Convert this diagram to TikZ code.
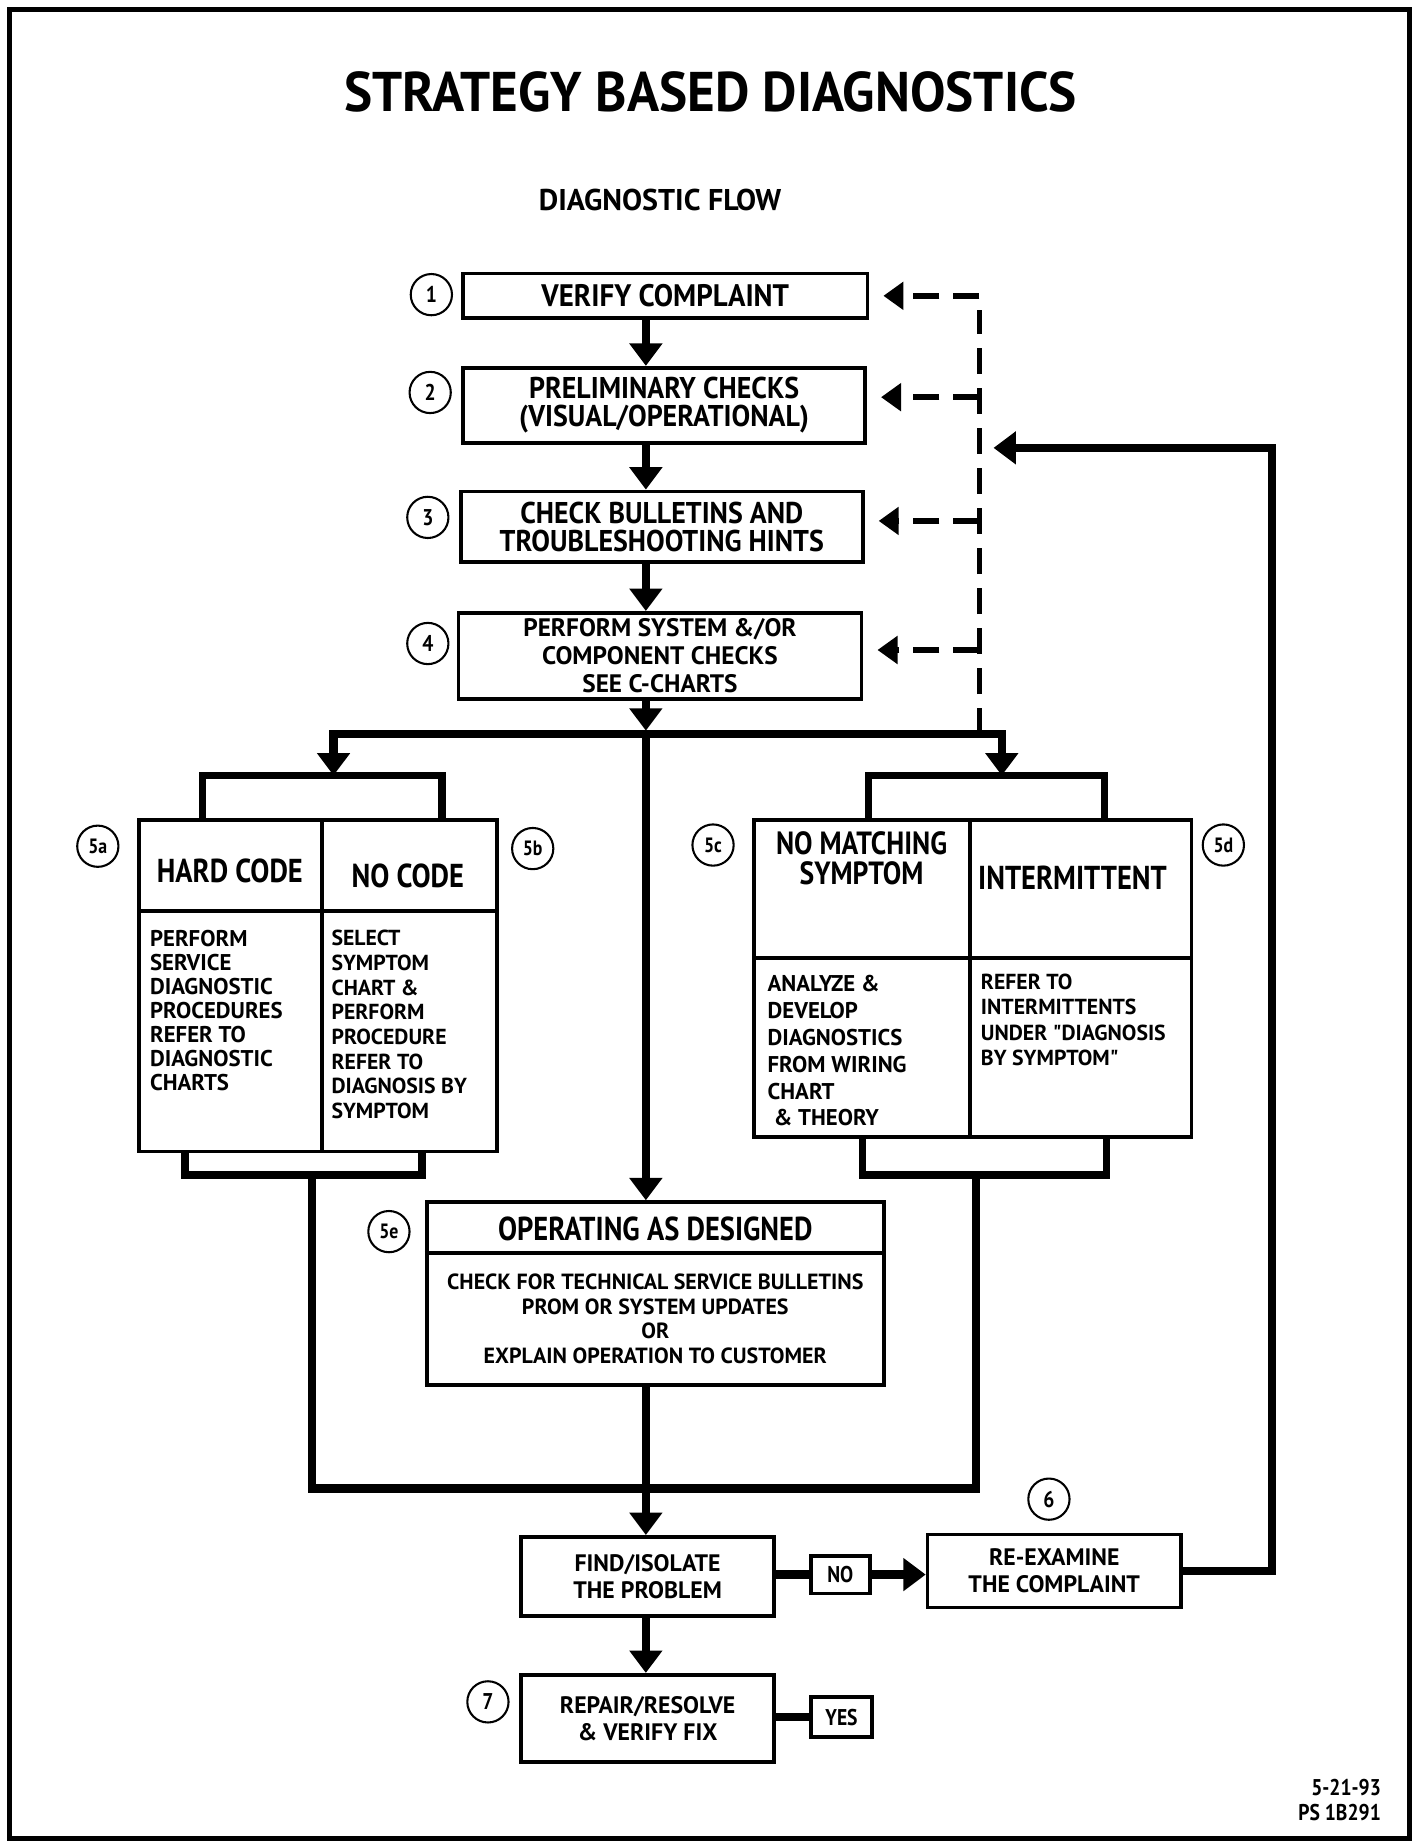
\documentclass[tikz,border=0pt]{standalone}
\usepackage{fontspec}
\setmainfont{PT Sans}[FakeStretch=0.86]
\newfontfamily\plainsans{PT Sans}
\newfontfamily\titlesans{PT Sans}[FakeStretch=0.95]
\newfontfamily\boxsans{PT Sans}[FakeStretch=0.93]
\usetikzlibrary{arrows.meta,positioning,calc}
\newcommand{\bfsz}[2]{\fontsize{#1}{#2}\selectfont\bfseries}

\begin{document}
\begin{tikzpicture}[x=0.02cm, y=-0.02cm, line join=miter,
  >={Triangle[width=0.54cm,length=0.38cm]},
  box/.style={draw, line width=1.8pt, inner sep=0pt, align=center},
  num/.style={draw, circle, line width=1pt, minimum size=0.7cm, inner sep=0pt, font=\bfsz{11}{11}},
  flow/.style={line width=4pt},
  bracket/.style={line width=3.6pt},
  divide/.style={line width=1.8pt},
  back/.style={line width=2.6pt, dash pattern=on 0.44cm off 0.24cm, -{Triangle[width=0.46cm,length=0.34cm]}, shorten >=0.24cm},
  txt/.style={inner sep=0pt, align=left, font=\plainsans\bfsz{11}{11.6}}]
  \useasboundingbox (0,0) rectangle (1208,1568);
  \draw[line width=2.4pt] (8,8) rectangle (1196,1560);

  \node[font=\titlesans\bfsz{27}{30}] (title) at (603,78) {STRATEGY BASED DIAGNOSTICS};
  \node[font=\plainsans\bfsz{14.5}{16}] (sub) at (560,170) {DIAGNOSTIC FLOW};

  \node[box, minimum width=6.86cm, minimum height=0.76cm, font=\boxsans\bfsz{15}{17}] (verify) at (564.5,251) {VERIFY COMPLAINT};
  \node[box, minimum width=6.82cm, minimum height=1.28cm, font=\boxsans\bfsz{14.5}{13.6}] (prelim) at (563.5,344) {PRELIMINARY CHECKS\\(VISUAL/OPERATIONAL)};
  \node[box, minimum width=6.82cm, minimum height=1.2cm, font=\boxsans\bfsz{14.5}{13.6}] (bullet) at (561.5,447) {CHECK BULLETINS AND\\TROUBLESHOOTING HINTS};
  \node[box, minimum width=6.84cm, minimum height=1.46cm, font=\plainsans\bfsz{12.2}{13.6}] (system) at (560,556.5) {PERFORM SYSTEM \&/OR\\COMPONENT CHECKS\\SEE C-CHARTS};

  \node[num] (n1) at (366,250) {1};
  \node[num] (n2) at (365,333) {2};
  \node[num] (n3) at (363,439) {3};
  \node[num] (n4) at (363,546) {4};

  \coordinate (spine) at (548,0);
  \coordinate (split) at (548,623);
  \draw[flow,->] (verify.south -| spine) -- (prelim.north -| spine);
  \draw[flow,->] (prelim.south -| spine) -- (bullet.north -| spine);
  \draw[flow,->] (bullet.south -| spine) -- (system.north -| spine);
  \draw[flow,->] (system.south -| spine) -- ([yshift=0.06cm]split);

  % code / no code
  \node[box, minimum width=6.08cm, minimum height=5.62cm] (ab) at (270,836.5) {};
  \draw[divide] (ab.north -| 273,0) -- (ab.south -| 273,0);
  \draw[divide] (ab.west |- 0,773) -- (ab.east |- 0,773);
  \coordinate (abl) at (172,658);
  \coordinate (abr) at (375,658);
  \coordinate (abin) at (283,658);
  \draw[bracket] (abl |- ab.north) -- (abl) -- (abr) -- (abr |- ab.north);
  \coordinate (abbl) at (157,997);
  \coordinate (abbr) at (358,997);
  \coordinate (about) at (265,997);
  \draw[bracket] (abbl |- ab.south) -- (abbl) -- (abbr) -- (abbr |- ab.south);

  \node[font=\bfsz{16}{16}] (hardhd) at (195,739) {HARD CODE};
  \node[font=\bfsz{16}{16}] (nocodehd) at (346,743) {NO CODE};
  \node[txt, anchor=north west] (hardtx) at (127,789) {PERFORM\\SERVICE\\DIAGNOSTIC\\PROCEDURES\\REFER TO\\DIAGNOSTIC\\CHARTS};
  \node[txt, anchor=north west, font=\plainsans\bfsz{10.5}{11.9}] (nocodetx) at (281,789) {SELECT\\SYMPTOM\\CHART \&\\PERFORM\\PROCEDURE\\REFER TO\\DIAGNOSIS BY\\SYMPTOM};
  \node[num, font=\bfsz{10}{10}] (n5a) at (83,718) {5a};
  \node[num, font=\bfsz{10}{10}] (n5b) at (452,720) {5b};

  % no matching / intermittent
  \node[box, minimum width=7.42cm, minimum height=5.38cm] (cd) at (825.5,830.5) {};
  \draw[divide] (cd.north -| 823,0) -- (cd.south -| 823,0);
  \draw[divide] (cd.west |- 0,813) -- (cd.east |- 0,813);
  \coordinate (cdl) at (737,658);
  \coordinate (cdr) at (937,658);
  \coordinate (cdin) at (850,658);
  \draw[bracket] (cdl |- cd.north) -- (cdl) -- (cdr) -- (cdr |- cd.north);
  \coordinate (cdbl) at (732,997);
  \coordinate (cdbr) at (939,997);
  \coordinate (cdout) at (828,997);
  \draw[bracket] (cdbl |- cd.south) -- (cdbl) -- (cdbr) -- (cdbr |- cd.south);

  \node[font=\bfsz{15.5}{14.6}, align=center] (nomatchhd) at (731,728) {NO MATCHING\\SYMPTOM};
  \node[font=\bfsz{16}{16}] (interhd) at (910,745) {INTERMITTENT};
  \node[txt, anchor=north west, font=\plainsans\bfsz{11}{13}] (nomatchtx) at (651,827) {ANALYZE \&\\DEVELOP\\DIAGNOSTICS\\FROM WIRING\\CHART\\\hspace{3pt}\& THEORY};
  \node[txt, anchor=north west, font=\plainsans\bfsz{10.5}{12.3}] (intertx) at (832,826) {REFER TO\\INTERMITTENTS\\UNDER "DIAGNOSIS\\BY SYMPTOM"};
  \node[num, font=\bfsz{10}{10}] (n5c) at (605,717) {5c};
  \node[num, font=\bfsz{10}{10}] (n5d) at (1038,717) {5d};

  % operating as designed
  \node[box, minimum width=7.76cm, minimum height=3.1cm] (ope) at (556,1097.5) {};
  \draw[divide] (ope.west |- 0,1063) -- (ope.east |- 0,1063);
  \node[font=\bfsz{16}{16}] (opehd) at (556,1043) {OPERATING AS DESIGNED};
  \node[align=center, inner sep=0pt, font=\plainsans\bfsz{10.6}{12}] (opetx) at (556,1119) {CHECK FOR TECHNICAL SERVICE BULLETINS\\PROM OR SYSTEM UPDATES\\OR\\EXPLAIN OPERATION TO CUSTOMER};
  \node[num, font=\bfsz{10}{10}] (n5e) at (330,1045) {5e};

  \draw[flow,->] (split) -| (abin);
  \draw[flow,->] (split) -| (cdin);
  \draw[flow,->] (split) -- (ope.north -| spine);

  % find / repair
  \coordinate (merge) at (548,1263);
  \node[box, minimum width=4.3cm, minimum height=1.34cm, font=\plainsans\bfsz{11.5}{13}] (find) at (549.5,1337.5) {FIND/ISOLATE\\THE PROBLEM};
  \node[box, minimum width=1cm, minimum height=0.64cm, font=\bfsz{11}{12}] (no) at (713,1336) {NO};
  \node[box, minimum width=4.3cm, minimum height=1.24cm, font=\plainsans\bfsz{11.5}{13}] (reex) at (894.5,1333) {RE-EXAMINE\\THE COMPLAINT};
  \node[box, minimum width=4.3cm, minimum height=1.48cm, font=\plainsans\bfsz{11.5}{13}] (repair) at (549.5,1458) {REPAIR/RESOLVE\\\& VERIFY FIX};
  \node[box, minimum width=1.04cm, minimum height=0.68cm, font=\bfsz{11}{12}] (yes) at (714,1457) {YES};
  \node[num] (n6) at (890,1272) {6};
  \node[num] (n7) at (414,1444) {7};

  \draw[flow] (about) |- (merge) -| (cdout);
  \draw[flow] (ope.south -| spine) -- (merge);
  \draw[flow,->] (merge) -- (find.north -| spine);
  \draw[flow] (find.east |- no.west) -- (no.west);
  \draw[flow,->] (no.east) -- (reex.west |- no.east);
  \draw[flow,->] (find.south -| spine) -- (repair.north -| spine);
  \draw[flow] (repair.east |- yes.west) -- (yes.west);
  \coordinate (loop) at (1079,380);
  \coordinate (backin) at (843,380);
  \draw[flow,->] (reex.east) -| (loop) -- (backin);

  % dashed returns
  \coordinate (dashx) at (831,623);
  \coordinate (dtop) at (831,251);
  \draw[back, -] (dashx) -- (dtop);
  \draw[back] (dtop) -- (verify.east);
  \draw[back] ([yshift=0.14cm]prelim.east -| dashx) -- ([yshift=0.14cm]prelim.east);
  \draw[back] ([yshift=0.1cm]bullet.east -| dashx) -- ([yshift=0.1cm]bullet.east);
  \draw[back] ([yshift=0.1cm]system.east -| dashx) -- ([yshift=0.1cm]system.east);

  \node[anchor=east, align=right, inner sep=0pt, font=\bfsz{11}{12}] (stamp) at (1172,1527) {5-21-93\\PS 1B291};
\end{tikzpicture}
\end{document}
